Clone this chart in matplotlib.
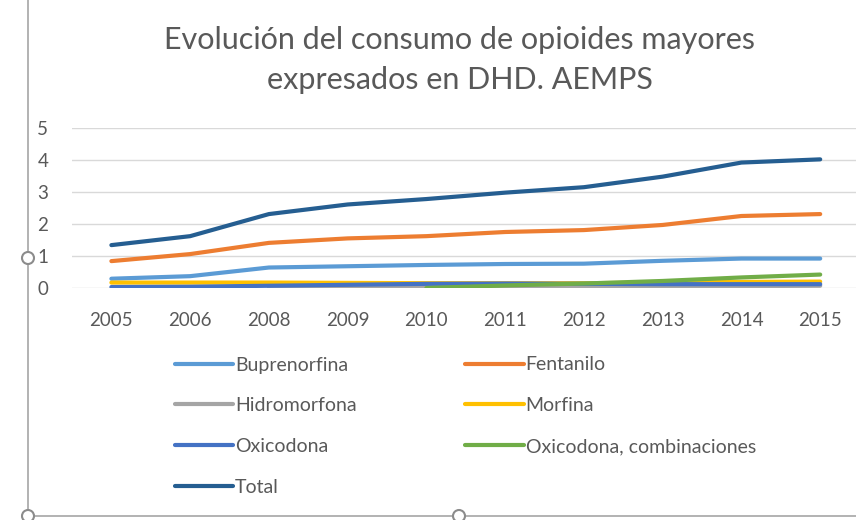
import numpy as np
import matplotlib.pyplot as plt
from matplotlib.lines import Line2D
from matplotlib.patches import Circle

plt.rcParams['font.family'] = ['Lato', 'DejaVu Sans']

years = ['2005', '2006', '2008', '2009', '2010', '2011', '2012', '2013', '2014', '2015']
nan = np.nan

buprenorfina = [0.29, 0.37, 0.64, 0.68, 0.72, 0.75, 0.76, 0.85, 0.92, 0.92]
fentanilo = [0.84, 1.06, 1.41, 1.55, 1.62, 1.75, 1.81, 1.97, 2.25, 2.31]
hidromorfona = [nan, nan, 0.00, 0.02, 0.03, 0.04, 0.05, 0.05, 0.06, 0.07]
morfina = [0.17, 0.17, 0.17, 0.16, 0.15, 0.15, 0.15, 0.17, 0.19, 0.20]
oxicodona = [0.03, 0.04, 0.07, 0.10, 0.13, 0.14, 0.13, 0.12, 0.12, 0.12]
oxicodona_comb = [nan, nan, nan, nan, 0.00, 0.08, 0.14, 0.22, 0.33, 0.42]
total = [1.34, 1.62, 2.31, 2.61, 2.78, 2.98, 3.15, 3.48, 3.92, 4.02]

series = [
    ('Buprenorfina', buprenorfina, '#5B9BD5'),
    ('Fentanilo', fentanilo, '#ED7D31'),
    ('Hidromorfona', hidromorfona, '#A5A5A5'),
    ('Morfina', morfina, '#FFC000'),
    ('Oxicodona', oxicodona, '#4472C4'),
    ('Oxicodona, combinaciones', oxicodona_comb, '#70AD47'),
    ('Total', total, '#255E91'),
]

W, H = 856, 520
fig = plt.figure(figsize=(W / 100, H / 100), dpi=100)
ax = fig.add_axes([72 / W, 1 - 288 / H, (858 - 72) / W, 160 / H])

x = np.arange(len(years))
handles = {}
for name, vals, col in series:
    ln, = ax.plot(x, vals, color=col, lw=3.0, solid_capstyle='round', label=name)
    handles[name] = ln

ax.set_xlim(-0.5, 9.48)
ax.set_ylim(0, 5)
ax.set_yticks(range(0, 6))
ax.set_xticks(x)
ax.set_xticklabels(years)
ax.grid(axis='y', color='#D9D9D9', lw=1)
ax.set_axisbelow(True)
for s in ax.spines.values():
    s.set_visible(False)
ax.tick_params(length=0, labelsize=13.5, labelcolor='#595959')
ax.tick_params(axis='x', pad=17)
ax.tick_params(axis='y', pad=17)

fig.text(460 / W, 1 - 60 / H, 'Evolución del consumo de opioides mayores\nexpresados en DHD. AEMPS',
         ha='center', va='center', fontsize=22, color='#595959', linespacing=1.5)

order = ['Buprenorfina', 'Hidromorfona', 'Oxicodona', 'Total',
         'Fentanilo', 'Morfina', 'Oxicodona, combinaciones']
leg = fig.legend([handles[n] for n in order], order, ncol=2,
                 loc='upper left', bbox_to_anchor=(157 / W, 1 - 339 / H),
                 frameon=False, fontsize=14, handlelength=3.0, handletextpad=0.1,
                 labelspacing=1.22, columnspacing=5.6)
for t in leg.get_texts():
    t.set_color('#595959')

# marco de selección
gc = '#A6A6A6'
fig.add_artist(Line2D([28 / W, 28 / W], [1.0, 1 - 516 / H], color=gc, lw=1.2))
fig.add_artist(Line2D([28 / W, 1.0], [1 - 516 / H, 1 - 516 / H], color=gc, lw=1.2))
for px, py in [(28, 258), (28, 516), (459, 516)]:
    fig.add_artist(Circle((px, H - py), 6, transform=None, facecolor='white',
                          edgecolor='#8C8C8C', lw=1.5, zorder=10))

fig.savefig('out.png', dpi=100)
